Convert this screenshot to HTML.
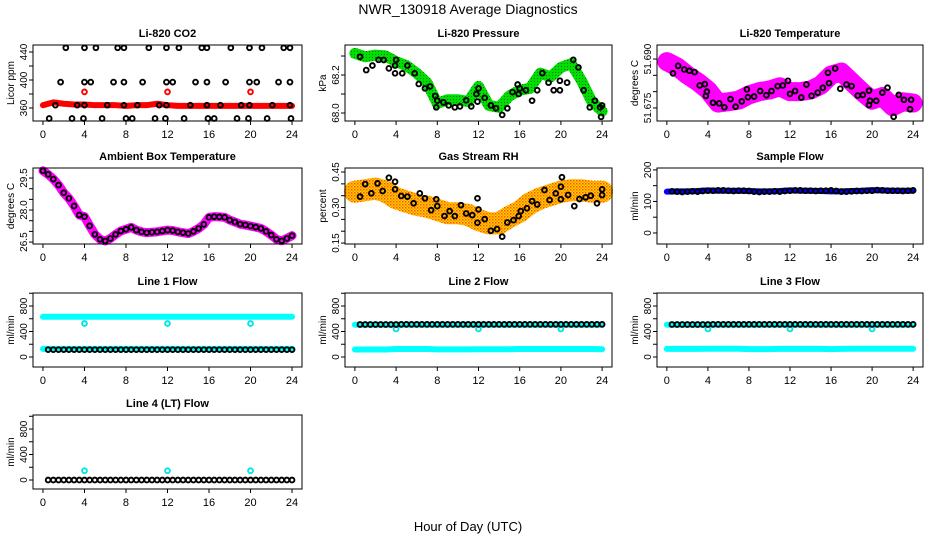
<!DOCTYPE html>
<html><head><meta charset="utf-8">
<style>
html,body{margin:0;padding:0;background:#fff;}
svg{display:block;font-family:"Liberation Sans",Arial,sans-serif;}
</style></head>
<body>
<svg id="chart" width="936" height="540" viewBox="0 0 936 540" xmlns="http://www.w3.org/2000/svg">
<defs>
<pattern id="rhp" width="3" height="3" patternUnits="userSpaceOnUse"><rect width="3" height="3" fill="#ffd400"/><rect width="1.5" height="1.5" fill="#ff5000"/><rect x="1.5" y="1.5" width="1.5" height="1.5" fill="#ff9000"/></pattern>
<pattern id="grp" width="3" height="3" patternUnits="userSpaceOnUse"><rect width="3" height="3" fill="#00e000"/><rect width="1" height="1" fill="#1a6a1a"/></pattern>
</defs>
<text x="468" y="14" font-size="14" text-anchor="middle">NWR_130918  Average Diagnostics</text>
<text x="468" y="531" font-size="13" text-anchor="middle">Hour of Day (UTC)</text>
</svg>
<script>
// ---- data ----
const bandHours = [0,1,2,3,4,5,6,7,8,9,10,11,12,13,14,15,16,17,18,19,20,21,22,23,24];
const flowHours = [0.5,1,1.5,2,2.5,3,3.5,4,4.5,5,5.5,6,6.5,7,7.5,8,8.5,9,9.5,10,10.5,11,11.5,12,12.5,13,13.5,14,14.5,15,15.5,16,16.5,17,17.5,18,18.5,19,19.5,20,20.5,21,21.5,22,22.5,23,23.5,24];
const outlierHours = [4,12,20];

const co2Red = [364,368,366,365,365,364,364,364,363,364,364,366,364,363,363,363,363,363,363,363,363,363,363,363,363];
const co2RedOut = [383,383,383];
const co2Hx = [2.2,4.0,5.1,7.2,7.8,10.2,11.9,13.1,15.3,15.8,18.1,19.9,21.1,23.2,23.8, 1.7,4.0,4.6,6.8,7.8,9.6,11.9,12.5,14.7,15.8,17.6,19.9,20.6,22.7,23.8, 1.2,3.3,4.0,6.2,7.8,9.1,11.2,11.9,14.2,15.8,17.1,19.1,19.9,22.1,23.8, 0.6,2.8,3.9,5.7,8.0,8.6,10.8,11.8,13.6,15.9,16.5,18.7,19.8,21.6,23.9];
const co2Val = [446,446,446,446,446,446,446,446,446,446,446,446,446,446,446, 397,397,397,397,397,397,397,397,397,397,397,397,397,397,397, 364,364,364,364,364,364,364,364,364,364,364,364,364,364,364, 345,345,345,345,345,345,345,345,345,345,345,345,345,345,345];

const presBand = [68.314,68.296,68.305,68.30,68.27,68.25,68.21,68.16,68.05,68.07,68.07,68.06,68.14,68.04,68.03,68.09,68.12,68.13,68.21,68.19,68.24,68.26,68.17,68.06,68.01];
const presHx = [0.5,1.1,1.7,2.3,2.8,3.3,3.9,3.9,4.0,4.6,5.1,5.8,6.2,6.8,7.3,7.8,7.9,8.0,8.6,9.1,9.7,10.2,10.8,11.3,11.8,11.9,12.0,12.6,13.2,13.7,14.3,14.8,15.3,15.8,15.9,16.0,16.6,17.2,17.7,18.2,18.8,19.3,19.9,19.9,20.6,21.2,21.7,22.2,22.8,23.3,23.8,23.9,24.0];
const presVal = [68.296,68.226,68.25,68.28,68.279,68.235,68.209,68.25,68.28,68.209,68.25,68.209,68.153,68.13,68.14,68.09,68.03,68.065,68.056,68.04,68.03,68.035,68.067,68.035,68.10,68.06,68.13,68.08,68.04,68.025,67.99,68.025,68.11,68.15,68.10,68.13,68.12,68.065,68.12,68.21,68.16,68.12,68.12,68.17,68.16,68.28,68.24,68.12,68.03,68.065,68.03,67.98,68.04];

const tempBand = [51.6892,51.6876,51.6851,51.6830,51.6805,51.6765,51.6769,51.6774,51.679,51.680,51.6805,51.6815,51.680,51.680,51.6805,51.682,51.6851,51.686,51.683,51.680,51.6774,51.6785,51.6754,51.6769,51.6765];
const tempHx = [0.6,1.1,1.7,2.2,2.7,3.2,3.7,3.8,3.9,4.5,5.1,5.6,6.2,6.7,7.3,7.8,7.9,8.5,9.1,9.7,10.2,10.8,11.3,11.8,12.0,12.5,13.1,13.6,14.1,14.7,15.2,15.7,15.8,16.4,16.9,17.5,18.0,18.6,19.1,19.7,19.7,19.8,20.4,21.0,21.5,22.1,22.6,23.1,23.8,23.7];
const tempVal = [51.6856,51.6879,51.6868,51.6864,51.686,51.6819,51.6823,51.6787,51.680,51.6766,51.6764,51.6752,51.6777,51.6754,51.677,51.6807,51.6783,51.6785,51.6802,51.6789,51.6802,51.6817,51.6819,51.6833,51.6793,51.6802,51.6782,51.6822,51.6787,51.6797,51.6812,51.6858,51.6826,51.6871,51.6809,51.6822,51.6817,51.6788,51.679,51.6803,51.6759,51.6772,51.6772,51.6797,51.6812,51.6723,51.679,51.6775,51.6775,51.6746];

const ambHx = [0,0.5,1,1.5,2,2.5,3,3.5,4,4.5,5,5.5,6,6.5,7,7.5,8,8.5,9,9.5,10,10.5,11,11.5,12,12.5,13,13.5,14,14.5,15,15.5,16,16.5,17,17.5,18,18.5,19,19.5,20,20.5,21,21.5,22,22.5,23,23.5,24];
const ambVal = [29.84,29.67,29.45,29.17,28.81,28.55,28.19,27.77,27.69,27.26,26.86,26.63,26.55,26.67,26.86,27.02,27.10,27.19,27.06,26.98,26.94,26.96,26.98,27.02,27.06,27.04,26.98,26.94,26.90,27.00,27.14,27.33,27.66,27.69,27.68,27.66,27.53,27.44,27.34,27.30,27.25,27.20,27.14,27.00,26.83,26.63,26.56,26.67,26.80];

const rhBand = [0.367,0.373,0.38,0.367,0.339,0.325,0.311,0.304,0.29,0.276,0.276,0.269,0.247,0.233,0.233,0.261,0.283,0.318,0.339,0.353,0.367,0.373,0.373,0.367,0.367];
const rhHx = [0.5,1.0,1.6,2.2,2.7,3.3,3.9,3.9,4.5,5.1,5.7,6.3,6.8,7.4,7.9,8.0,8.7,9.2,9.7,10.3,10.8,11.4,11.9,11.9,12.0,12.6,13.2,13.8,14.3,14.8,15.4,15.9,16.1,16.7,17.2,17.7,18.4,18.9,19.5,20.0,20.1,20.0,20.7,21.3,21.8,22.4,22.9,23.5,24.0,24.0];
const rhVal = [0.346,0.399,0.36,0.402,0.37,0.426,0.409,0.377,0.349,0.346,0.318,0.36,0.339,0.289,0.335,0.306,0.264,0.285,0.264,0.31,0.275,0.268,0.339,0.236,0.292,0.251,0.202,0.209,0.177,0.237,0.247,0.264,0.285,0.297,0.327,0.313,0.374,0.332,0.36,0.388,0.428,0.335,0.353,0.306,0.336,0.343,0.35,0.318,0.377,0.353];

const sampleBlue = [131,132,132,133,135,134,134,134,133,132,132,133,135,134,134,133,132,132,133,134,136,135,134,134,134];
const sampleBlack = [132,131,130,131,132,131,133,134,134,135,135,134,133,134,134,133,131,130,131,131,132,131,133,134,135,135,134,134,133,134,134,135,133,131,131,132,133,133,134,134,136,135,134,134,134,133,134,135];

const line1Cyan = [632,632,632,632,632,632,632,632,632,632,632,632,632,632,632,632,632,632,632,632,632,632,632,632,632];
const line1CyanLow = [128,128,128,128,128,128,128,128,128,128,128,128,128,128,128,128,128,128,128,128,128,128,128,128,128];
const line1Out = [525,525,525];
const line1Black = [115,115,115,115,115,115,115,115,115,115,115,115,115,115,115,115,115,115,115,115,115,115,115,115,115,115,115,115,115,115,115,115,115,115,115,115,115,115,115,115,115,115,115,115,115,115,115,115];

const line2Cyan = [505,505,505,505,505,505,505,505,505,505,505,505,505,505,505,505,505,505,505,505,505,505,505,505,505];
const line2CyanLow = [118,118,118,118,125,125,125,125,120,120,120,120,122,122,122,122,126,126,126,126,126,126,126,126,122];
const line2Out = [440,440,440];
const line2Black = [510,510,510,510,510,510,510,510,512,512,512,512,512,512,512,512,512,512,512,512,512,512,512,512,512,512,512,512,512,512,512,512,512,512,512,512,512,512,512,512,512,512,512,512,512,512,512,512];

const line3Cyan = [505,505,505,505,505,505,505,505,505,505,505,505,505,505,505,505,505,505,505,505,505,505,505,505,505];
const line3CyanLow = [128,128,128,128,130,130,130,130,124,124,124,128,128,128,128,128,124,128,130,130,130,130,130,130,130];
const line3Out = [440,440,440];
const line3Black = [510,510,510,510,510,510,510,510,512,512,512,512,512,512,512,512,512,512,512,512,512,512,512,512,512,512,512,512,512,512,512,512,512,512,512,512,512,512,512,512,512,512,512,512,512,512,512,512];

const line4Out = [146,146,146];
const line4Black = [0,0,0,0,0,0,0,0,0,0,0,0,0,0,0,0,0,0,0,0,0,0,0,0,0,0,0,0,0,0,0,0,0,0,0,0,0,0,0,0,0,0,0,0,0,0,0,0];

const xTicks = [0,4,8,12,16,20,24];

// ---- drawing ----
const svg = document.getElementById('chart');
const NS = 'http://www.w3.org/2000/svg';
const colX = [[33,302],[345,612],[657,923]];
const rowY = [[45,121],[168,244],[293,367],[415,489]];

function mk(tag, parent){ const e=document.createElementNS(NS,tag); parent.appendChild(e); return e; }

function makePanel(col,row,ymin,ymax,yTicks,yLabels,title,ylab,name){
  const [l,r]=colX[col], [t,b]=rowY[row];
  const g=mk('g',svg);
  
  
  const xs=v=>l+(v+0.96)/25.92*(r-l);
  const ys=v=>b-(v-ymin)/(ymax-ymin)*(b-t);
  const plot=mk('g',g);
  
  
  const box=mk('rect',g);
  
  
  box.setAttribute('x',l);box.setAttribute('y',t);box.setAttribute('width',r-l);box.setAttribute('height',b-t);
  box.setAttribute('fill','none');box.setAttribute('stroke','#000');box.setAttribute('stroke-width','1');
  const tt=mk('text',g);
  
  
  tt.setAttribute('x',(l+r)/2);tt.setAttribute('y',t-8);tt.setAttribute('text-anchor','middle');
  tt.setAttribute('font-size','11');tt.setAttribute('font-weight','bold');tt.textContent=title;
  const yl=mk('text',g);
  
  
  yl.setAttribute('transform','translate('+(l-19)+','+((t+b)/2)+') rotate(-90)');
  yl.setAttribute('text-anchor','middle');yl.setAttribute('font-size','10');yl.textContent=ylab;
  xTicks.forEach(v=>{
    const tk=mk('line',g);
    
    
    tk.setAttribute('x1',xs(v));tk.setAttribute('x2',xs(v));tk.setAttribute('y1',b);tk.setAttribute('y2',b+4);tk.setAttribute('stroke','#000');
    const tl=mk('text',g);
    
    
    tl.setAttribute('x',xs(v));tl.setAttribute('y',b+17);tl.setAttribute('text-anchor','middle');tl.setAttribute('font-size','11');tl.textContent=v;
  });
  yTicks.forEach(v=>{
    const tk=mk('line',g);
    
    
    tk.setAttribute('x1',l);tk.setAttribute('x2',l-4);tk.setAttribute('y1',ys(v));tk.setAttribute('y2',ys(v));tk.setAttribute('stroke','#000');
  });
  yLabels.forEach(s=>{
    const tl=mk('text',g);
    
    
    tl.setAttribute('transform','translate('+(l-6)+','+ys(parseFloat(s))+') rotate(-90)');
    tl.setAttribute('text-anchor','middle');tl.setAttribute('font-size','10');tl.textContent=s;
  });
  return {plot,xs,ys,name};
}

function band(p,xsArr,vals,color,width,label){
  const pl=mk('polyline',p.plot);
  
  
  pl.setAttribute('points',vals.map((v,i)=>p.xs(xsArr[i])+','+p.ys(v)).join(' '));
  pl.setAttribute('fill','none');pl.setAttribute('stroke',color);pl.setAttribute('stroke-width',width);
  pl.setAttribute('stroke-linejoin','round');pl.setAttribute('stroke-linecap','round');
}
function pts(p,xsArr,vals,color,label){
  vals.forEach((v,i)=>{
    const c=mk('circle',p.plot);
    
    
    c.setAttribute('cx',p.xs(xsArr[i]));c.setAttribute('cy',p.ys(v));c.setAttribute('r','2.4');
    c.setAttribute('fill','none');c.setAttribute('stroke',color);c.setAttribute('stroke-width','1.9');
  });
}

let p;
p=makePanel(0,0,341.4,450,[360,380,400,420,440],['360','400','440'],'Li-820 CO2','Licor ppm','co2');
band(p,bandHours,co2Red,'#ff0000',6,'red-series');
pts(p,outlierHours,co2RedOut,'#ff0000','red-outlier');
pts(p,co2Hx,co2Val,'#000','black-point');

p=makePanel(1,0,67.958,68.358,[68.0,68.1,68.2,68.3],['68.0','68.2'],'Li-820 Pressure','kPa','pressure');
band(p,bandHours,presBand,'url(#grp)',11,'green-series');
pts(p,presHx,presVal,'#000','black-point');

p=makePanel(2,0,51.671,51.6943,[51.675,51.680,51.685,51.690],['51.675','51.690'],'Li-820 Temperature','degrees C','temperature');
band(p,bandHours,tempBand,'#ff00ff',19,'magenta-series');
pts(p,tempHx,tempVal,'#000','black-point');

p=makePanel(0,1,26.41,29.97,[26.5,27,27.5,28,28.5,29,29.5],['26.5','28.0','29.5'],'Ambient Box Temperature','degrees C','ambient');
band(p,ambHx,ambVal,'#ff00ff',9,'magenta-series');
pts(p,ambHx,ambVal,'#000','black-point');

p=makePanel(1,1,0.146,0.467,[0.15,0.2,0.25,0.3,0.35,0.4,0.45],['0.15','0.30','0.45'],'Gas Stream RH','percent','rh');
band(p,bandHours,rhBand,'url(#rhp)',22,'orange-series');
pts(p,rhHx,rhVal,'#000','black-point');

p=makePanel(2,1,-35,206,[0,50,100,150,200],['0','100','200'],'Sample Flow','ml/min','sample-flow');
band(p,bandHours,sampleBlue,'#0000ff',6,'blue-series');
pts(p,flowHours,sampleBlack,'#000','black-point');

p=makePanel(0,2,-157,1004,[0,200,400,600,800,1000],['0','400','800'],'Line 1 Flow','ml/min','line1');
band(p,bandHours,line1Cyan,'#00ffff',6,'cyan-series');
band(p,bandHours,line1CyanLow,'#00ffff',6,'cyan-low-series');
pts(p,outlierHours,line1Out,'#00e5e5','cyan-outlier');
pts(p,flowHours,line1Black,'#000','black-point');

p=makePanel(1,2,-157,1004,[0,200,400,600,800,1000],['0','400','800'],'Line 2 Flow','ml/min','line2');
band(p,bandHours,line2Cyan,'#00ffff',6,'cyan-series');
band(p,bandHours,line2CyanLow,'#00ffff',6,'cyan-low-series');
pts(p,outlierHours,line2Out,'#00e5e5','cyan-outlier');
pts(p,flowHours,line2Black,'#000','black-point');

p=makePanel(2,2,-157,1004,[0,200,400,600,800,1000],['0','400','800'],'Line 3 Flow','ml/min','line3');
band(p,bandHours,line3Cyan,'#00ffff',6,'cyan-series');
band(p,bandHours,line3CyanLow,'#00ffff',6,'cyan-low-series');
pts(p,outlierHours,line3Out,'#00e5e5','cyan-outlier');
pts(p,flowHours,line3Black,'#000','black-point');

p=makePanel(0,3,-141,1020,[0,200,400,600,800,1000],['0','400','800'],'Line 4 (LT) Flow','ml/min','line4');
pts(p,outlierHours,line4Out,'#00e5e5','cyan-outlier');
pts(p,flowHours,line4Black,'#000','black-point');
</script>
</body></html>
